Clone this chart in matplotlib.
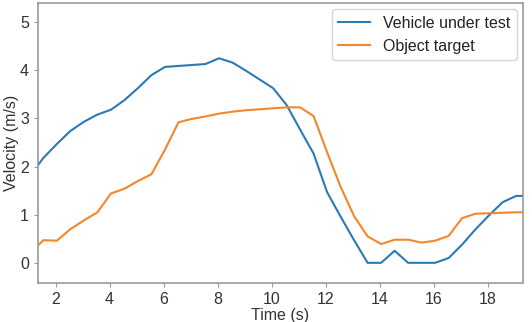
import matplotlib
matplotlib.use("Agg")
import matplotlib.pyplot as plt

plt.rcParams['font.family'] = ['Liberation Sans', 'DejaVu Sans']

time_s = [1.35, 1.55, 2.05, 2.55, 3.05, 3.55, 4.05, 4.55, 5.05, 5.55, 6.05, 6.55,
          7.05, 7.55, 8.05, 8.55, 9.05, 9.55, 10.05, 10.55, 11.05, 11.55, 12.05,
          12.55, 13.05, 13.55, 14.05, 14.55, 15.05, 15.55, 16.05, 16.55, 17.05,
          17.55, 18.05, 18.55, 19.05, 19.3]

vehicle_under_test = [2.03, 2.18, 2.47, 2.74, 2.93, 3.08, 3.18, 3.38, 3.63, 3.90, 4.07, 4.09,
                      4.11, 4.13, 4.25, 4.16, 3.99, 3.81, 3.63, 3.28, 2.77, 2.27, 1.47,
                      0.96, 0.47, 0.0, 0.0, 0.25, 0.0, 0.0, 0.0, 0.10, 0.38,
                      0.70, 0.99, 1.26, 1.39, 1.39]

object_target = [0.36, 0.47, 0.46, 0.70, 0.88, 1.05, 1.44, 1.54, 1.70, 1.84, 2.35, 2.92,
                 2.99, 3.04, 3.10, 3.14, 3.17, 3.19, 3.21, 3.23, 3.23, 3.05, 2.30,
                 1.58, 0.97, 0.55, 0.39, 0.48, 0.48, 0.42, 0.46, 0.56, 0.93,
                 1.02, 1.03, 1.04, 1.05, 1.05]

x_ticks = [2, 4, 6, 8, 10, 12, 14, 16, 18]
y_ticks = [0, 1, 2, 3, 4, 5]

fig = plt.figure(figsize=(5.32, 3.22), dpi=100)
ax = fig.add_axes([0.0714, 0.121, 0.9116, 0.870])

ax.plot(time_s, vehicle_under_test, color='#2a7ab4', lw=1.5, label='Vehicle under test')
ax.plot(time_s, object_target, color='#f5862a', lw=1.5, label='Object target')

ax.set_xlim(1.35, 19.3)
ax.set_ylim(-0.42, 5.4)
ax.set_xticks(x_ticks)
ax.set_yticks(y_ticks)
ax.tick_params(labelsize=11.5, colors='#333333', length=3, width=0.8)
ax.tick_params(axis='both', color='#999999')
for s in ax.spines.values():
    s.set_color('#999999')
    s.set_linewidth(1.2)

ax.set_xlabel('Time (s)', fontsize=11.5, color='#333333', labelpad=1)
ax.set_ylabel('Velocity (m/s)', fontsize=11.5, color='#333333', labelpad=1)

leg = ax.legend(loc='upper right', fontsize=11.5, frameon=True, fancybox=True,
                borderaxespad=0.4, handlelength=2.0)
for t in leg.get_texts():
    t.set_color('#222222')

fig.savefig('out.png', dpi=100)
